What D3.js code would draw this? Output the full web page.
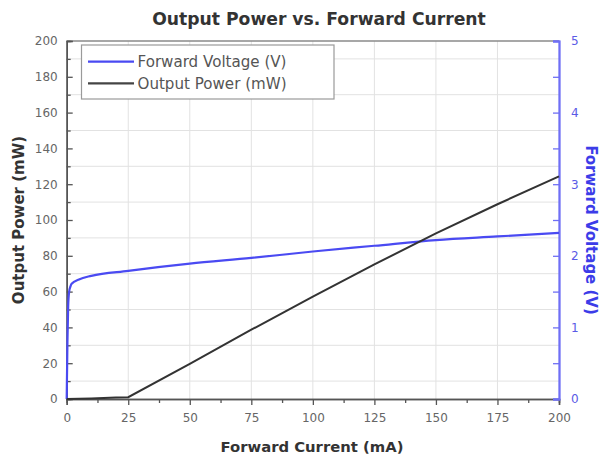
<!DOCTYPE html>
<html>
<head>
<meta charset="utf-8">
<script src="https://cdn.jsdelivr.net/npm/d3@7"></script>
<style>
  html, body { margin: 0; padding: 0; background: #fff; }
  svg { display: block; }
</style>
</head>
<body>
<svg id="chart" width="600" height="458"></svg>
<script>
// ---- data ----
const powerCurrent = [0, 5, 10, 15, 20, 25, 50, 75, 100, 125, 150, 175, 200];
const powerValues  = [0, 0.1, 0.3, 0.5, 0.8, 1.0, 19.6, 38.7, 57.2, 75.2, 92.5, 108.8, 124.4];

const voltCurrent = [0, 0.3, 0.6, 1, 1.5, 2, 5, 10, 25, 50, 75, 100, 125, 150, 175, 200];
const voltValues  = [0, 0.8, 1.3, 1.5, 1.57, 1.61, 1.67, 1.72, 1.79, 1.89, 1.97, 2.06, 2.14, 2.22, 2.27, 2.32];

const xTicks = [0, 25, 50, 75, 100, 125, 150, 175, 200];
const yLeftTicks = [0, 20, 40, 60, 80, 100, 120, 140, 160, 180, 200];
const yRightTicks = [0, 1, 2, 3, 4, 5];

const seriesNames = ["Forward Voltage (V)", "Output Power (mW)"];
const titleText = "Output Power vs. Forward Current";
const xLabel = "Forward Current (mA)";
const yLeftLabel = "Output Power (mW)";
const yRightLabel = "Forward Voltage (V)";

// ---- layout ----
const L = 66.7, R = 559, T = 41, B = 399;
const blue = "#4a4af2";
const axisBlue = "#6f6ff5";
const dark = "#555";

const svg = d3.select("#chart");
const x = d3.scaleLinear().domain([0, 200]).range([L, R]);
const yL = d3.scaleLinear().domain([0, 200]).range([B, T]);
const yR = d3.scaleLinear().domain([0, 5]).range([B, T]);

const font = "'DejaVu Sans', Verdana, sans-serif";

// gridlines
const g = svg.append("g");
g.selectAll("line.vg").data(xTicks.filter(d => d > 0 && d < 200)).enter()
  .append("line").attr("x1", d => x(d)).attr("x2", d => x(d))
  .attr("y1", T).attr("y2", B).attr("stroke", "#e2e2e2").attr("stroke-width", 1);
g.selectAll("line.hg").data(d3.range(10, 200, 20)).enter()
  .append("line").attr("y1", d => yL(d)).attr("y2", d => yL(d))
  .attr("x1", L).attr("x2", R).attr("stroke", "#e2e2e2").attr("stroke-width", 1);

// top frame
svg.append("line").attr("x1", L).attr("x2", R).attr("y1", T).attr("y2", T)
  .attr("stroke", "#8a8a8a").attr("stroke-width", 1.5);

// bottom axis
const xAxisMinor = d3.axisBottom(x).tickValues(d3.range(12.5, 200, 25)).tickSize(4).tickFormat("");
const xAxis = d3.axisBottom(x).tickValues(xTicks).tickSize(6).tickPadding(8).tickFormat(d3.format("d"));
const gx2 = svg.append("g").attr("transform", `translate(0,${B})`).call(xAxisMinor);
const gx = svg.append("g").attr("transform", `translate(0,${B})`).call(xAxis);
[gx, gx2].forEach(a => {
  a.select(".domain").attr("stroke", dark).attr("stroke-width", 1.5);
  a.selectAll(".tick line").attr("stroke", dark).attr("stroke-width", 1.3);
});
gx.selectAll(".tick text").attr("font-family", font).attr("font-size", 12).attr("fill", "#666");

// left axis (ticks inside)
const yLMinor = d3.axisLeft(yL).tickValues(d3.range(10, 200, 20)).tickSize(-4).tickFormat("");
const yLAxis = d3.axisLeft(yL).tickValues(yLeftTicks).tickSize(-6).tickPadding(10).tickFormat(d3.format("d"));
const gl2 = svg.append("g").attr("transform", `translate(${L},0)`).call(yLMinor);
const gl = svg.append("g").attr("transform", `translate(${L},0)`).call(yLAxis);
[gl, gl2].forEach(a => {
  a.select(".domain").attr("stroke", dark).attr("stroke-width", 1.5);
  a.selectAll(".tick line").attr("stroke", dark).attr("stroke-width", 1.3);
});
gl.selectAll(".tick text").attr("font-family", font).attr("font-size", 12).attr("fill", "#666")
  .attr("x", -9);

// right axis (ticks inside)
const yRMinor = d3.axisRight(yR).tickValues(d3.range(0.5, 5, 1)).tickSize(-6).tickFormat("");
const yRAxis = d3.axisRight(yR).tickValues(yRightTicks).tickSize(-6).tickPadding(12).tickFormat(d3.format("d"));
const gr2 = svg.append("g").attr("transform", `translate(${R},0)`).call(yRMinor);
const gr = svg.append("g").attr("transform", `translate(${R},0)`).call(yRAxis);
[gr, gr2].forEach(a => {
  a.select(".domain").attr("stroke", axisBlue).attr("stroke-width", 1.8);
  a.selectAll(".tick line").attr("stroke", axisBlue).attr("stroke-width", 1.3);
});
gr.selectAll(".tick text").attr("font-family", font).attr("font-size", 12).attr("fill", "#5a5ae6")
  .attr("x", 12);

// lines
const powerData = powerCurrent.map((c, i) => [c, powerValues[i]]);
const voltData = voltCurrent.map((c, i) => [c, voltValues[i]]);

svg.append("path").datum(voltData)
  .attr("d", d3.line().x(d => x(d[0])).y(d => yR(d[1])).curve(d3.curveMonotoneX))
  .attr("fill", "none").attr("stroke", blue).attr("stroke-width", 2.2);

svg.append("path").datum(powerData)
  .attr("d", d3.line().x(d => x(d[0])).y(d => yL(d[1])))
  .attr("fill", "none").attr("stroke", "#333").attr("stroke-width", 2);

// legend
const lg = svg.append("g");
lg.append("rect").attr("x", 81.5).attr("y", 45).attr("width", 252.5).attr("height", 54)
  .attr("fill", "#fff").attr("stroke", "#9a9a9a").attr("stroke-width", 1.2);
const legColors = [blue, "#444"];
seriesNames.forEach((name, i) => {
  const yy = 61.7 + i * 21.6;
  lg.append("line").attr("x1", 88).attr("x2", 134).attr("y1", yy).attr("y2", yy)
    .attr("stroke", legColors[i]).attr("stroke-width", 2.2);
  lg.append("text").attr("x", 137.5).attr("y", yy).attr("dy", "0.36em")
    .attr("font-family", font).attr("font-size", 15.1).attr("fill", "#555").text(name);
});

// title & labels
svg.append("text").attr("x", 319).attr("y", 25).attr("text-anchor", "middle")
  .attr("font-family", font).attr("font-weight", "bold").attr("font-size", 17.2)
  .attr("fill", "#333").text(titleText);

svg.append("text").attr("x", 312).attr("y", 452).attr("text-anchor", "middle")
  .attr("font-family", font).attr("font-weight", "bold").attr("font-size", 14.8)
  .attr("fill", "#333").text(xLabel);

svg.append("text").attr("transform", "translate(24,220) rotate(-90)").attr("text-anchor", "middle")
  .attr("font-family", font).attr("font-weight", "bold").attr("font-size", 15)
  .attr("fill", "#333").text(yLeftLabel);

svg.append("text").attr("transform", "translate(586,230) rotate(90)").attr("text-anchor", "middle")
  .attr("font-family", font).attr("font-weight", "bold").attr("font-size", 15)
  .attr("fill", "#3c3ce8").text(yRightLabel);
</script>
</body>
</html>
